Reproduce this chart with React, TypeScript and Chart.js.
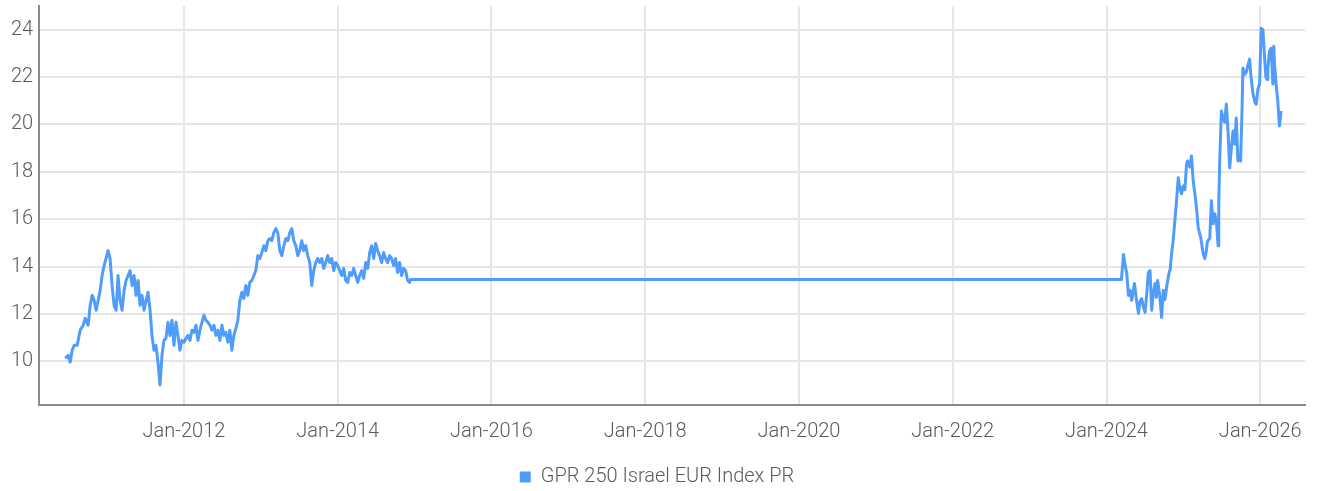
import React, { useEffect, useRef } from "react";
import { Chart, registerables } from "chart.js";

Chart.register(...registerables);

const seriesName = "GPR 250 Israel EUR Index PR";
const xTickYears = [2012, 2014, 2016, 2018, 2020, 2022, 2024, 2026];
const yTickValues = [10, 12, 14, 16, 18, 20, 22, 24];

// dates in decimal years
const dates = [
  2010.455, 2010.494, 2010.52, 2010.546, 2010.572, 2010.611, 2010.65, 2010.689, 2010.715, 2010.754,
  2010.78, 2010.806, 2010.832, 2010.858, 2010.884, 2010.91, 2010.935, 2010.961, 2010.987, 2011.013,
  2011.039, 2011.065, 2011.091, 2011.117, 2011.143, 2011.169, 2011.195, 2011.221, 2011.247, 2011.273,
  2011.299, 2011.325, 2011.351, 2011.377, 2011.403, 2011.429, 2011.455, 2011.481, 2011.507, 2011.533,
  2011.559, 2011.584, 2011.61, 2011.636, 2011.662, 2011.688, 2011.714, 2011.74, 2011.766, 2011.792,
  2011.818, 2011.844, 2011.87, 2011.896, 2011.922, 2011.948, 2011.974, 2012.0, 2012.026, 2012.052,
  2012.078, 2012.104, 2012.13, 2012.156, 2012.182, 2012.208, 2012.234, 2012.26, 2012.286, 2012.312,
  2012.338, 2012.364, 2012.39, 2012.416, 2012.442, 2012.468, 2012.494, 2012.519, 2012.545, 2012.571,
  2012.597, 2012.623, 2012.649, 2012.675, 2012.701, 2012.727, 2012.753, 2012.779, 2012.805, 2012.831,
  2012.857, 2012.883, 2012.909, 2012.935, 2012.961, 2012.987, 2013.013, 2013.039, 2013.065, 2013.091,
  2013.117, 2013.143, 2013.169, 2013.195, 2013.221, 2013.247, 2013.273, 2013.299, 2013.325, 2013.351,
  2013.377, 2013.403, 2013.429, 2013.455, 2013.481, 2013.506, 2013.532, 2013.558, 2013.584, 2013.61,
  2013.636, 2013.662, 2013.688, 2013.714, 2013.74, 2013.766, 2013.792, 2013.818, 2013.844, 2013.87,
  2013.896, 2013.922, 2013.948, 2013.974, 2014.0, 2014.026, 2014.052, 2014.078, 2014.104, 2014.13,
  2014.156, 2014.182, 2014.208, 2014.234, 2014.26, 2014.286, 2014.312, 2014.338, 2014.364, 2014.39,
  2014.416, 2014.442, 2014.468, 2014.494, 2014.519, 2014.545, 2014.571, 2014.597, 2014.623, 2014.649,
  2014.675, 2014.701, 2014.727, 2014.753, 2014.779, 2014.805, 2014.831, 2014.857, 2014.883, 2014.909,
  2014.935, 2014.948,
  2024.194, 2024.22, 2024.239, 2024.263, 2024.285, 2024.304, 2024.328, 2024.363, 2024.389, 2024.415,
  2024.434, 2024.457, 2024.479, 2024.501, 2024.524, 2024.544, 2024.566, 2024.587, 2024.609, 2024.631,
  2024.648, 2024.665, 2024.691, 2024.716, 2024.738, 2024.76, 2024.781, 2024.812, 2024.829, 2024.846,
  2024.864, 2024.881, 2024.911, 2024.933, 2024.955, 2024.975, 2024.997, 2025.019, 2025.04, 2025.053,
  2025.084, 2025.105, 2025.127, 2025.149, 2025.17, 2025.192, 2025.227, 2025.256, 2025.278, 2025.299,
  2025.312, 2025.343, 2025.364, 2025.386, 2025.408, 2025.429, 2025.451, 2025.46, 2025.473, 2025.494,
  2025.515, 2025.537, 2025.558, 2025.58, 2025.602, 2025.623, 2025.645, 2025.667, 2025.687, 2025.709,
  2025.726, 2025.744, 2025.762, 2025.774, 2025.793, 2025.817, 2025.839, 2025.861, 2025.874, 2025.904,
  2025.934, 2025.947, 2025.969, 2025.991, 2026.012, 2026.034, 2026.056, 2026.073, 2026.09, 2026.098,
  2026.12, 2026.141, 2026.163, 2026.176, 2026.185, 2026.205, 2026.227, 2026.249, 2026.27,
];

const values = [
  10.13, 10.25, 9.96, 10.46, 10.67, 10.67, 11.31, 11.52, 11.81, 11.52,
  12.36, 12.78, 12.57, 12.15, 12.57, 12.99, 13.62, 14.04, 14.34, 14.67,
  14.34, 13.2, 12.36, 12.15, 13.62, 12.57, 12.15, 12.99, 13.41, 13.62,
  13.83, 13.2, 13.62, 12.78, 13.41, 12.36, 12.78, 12.15, 12.57, 12.91,
  12.15, 11.09, 10.46, 10.67, 9.96, 8.99, 10.25, 10.88, 10.97, 11.64,
  11.09, 11.73, 10.67, 11.64, 11.09, 10.46, 10.88, 10.8, 10.97, 11.09,
  10.88, 11.31, 11.22, 11.52, 10.88, 11.31, 11.64, 11.94, 11.73, 11.64,
  11.52, 11.31, 11.52, 11.09, 11.31, 10.88, 11.52, 11.09, 11.22, 10.8,
  11.31, 10.46, 11.09, 11.39, 11.73, 12.57, 12.91, 12.65, 13.2, 12.78,
  13.33, 13.41, 13.62, 13.83, 14.46, 14.34, 14.59, 14.88, 14.67, 15.09,
  15.18, 15.09, 15.43, 15.6, 15.43, 14.67, 14.46, 14.88, 15.18, 15.09,
  15.43, 15.6, 15.09, 14.88, 14.46, 14.67, 15.09, 14.67, 14.88, 14.46,
  14.17, 13.2, 13.83, 14.17, 14.34, 14.17, 14.34, 13.92, 14.17, 14.46,
  14.17, 14.34, 13.83, 14.17, 14.04, 13.83, 13.62, 13.92, 13.41, 13.33,
  13.75, 13.62, 13.92, 13.62, 13.33, 13.62, 13.83, 13.5, 14.17, 13.92,
  14.59, 14.88, 14.34, 14.97, 14.67, 14.46, 14.17, 14.59, 14.34, 14.17,
  14.46, 14.34, 14.04, 14.34, 13.75, 14.17, 13.62, 13.92, 13.83, 13.41,
  13.33, 13.45,
  13.45, 14.51, 14.1, 13.71, 12.78, 13.0, 12.57, 13.28, 12.6, 12.02,
  12.5, 12.65, 12.3, 12.06, 12.9, 13.75, 13.83, 12.15, 12.9, 13.28,
  12.7, 13.41, 12.8, 11.85, 12.99, 12.6, 13.12, 13.71, 13.9, 14.55,
  15.0, 15.64, 16.78, 17.75, 17.3, 17.07, 17.4, 17.25, 18.3, 18.46,
  18.2, 18.67, 17.62, 17.07, 16.5, 15.64, 15.2, 14.55, 14.34, 14.67,
  15.05, 15.2, 16.78, 15.81, 16.23, 15.9, 14.88, 16.78, 18.55, 20.57,
  20.27, 20.1, 20.86, 19.72, 18.17, 19.0, 19.72, 19.17, 20.27, 18.46,
  18.7, 18.46, 20.57, 22.38, 22.1, 22.2, 22.5, 22.76, 22.2, 21.3,
  20.9, 20.86, 21.5, 21.71, 24.06, 24.0, 22.8, 22.0, 21.9, 22.38,
  23.1, 23.22, 21.71, 23.3, 22.55, 21.71, 21.0, 19.94, 20.57,
];

const LINE_COLOR = "#4f9cfb";
const TEXT_COLOR = "#5a5a5a";
const GRID_COLOR = "#e6e6e6";
const AXIS_COLOR = "#8a8a8a";
const FONT_FAMILY = "Roboto, 'Noto Sans', sans-serif";
const FONT = { family: FONT_FAMILY, size: 20, weight: 300 as any, lineHeight: 1.2 };
const Y_FONT = { family: FONT_FAMILY, size: 20, weight: 300 as any, lineHeight: 0.01 };

const legendShift = {
  id: "legendShift",
  afterLayout(chart: any) {
    const l = chart.legend;
    if (l) {
      l.top += 6;
      l.bottom += 6;
    }
  },
};

export default function App() {
  const canvasRef = useRef<HTMLCanvasElement | null>(null);

  useEffect(() => {
    if (!canvasRef.current) return;
    const chart = new Chart(canvasRef.current, {
      type: "line",
      data: {
        datasets: [
          {
            label: seriesName,
            data: dates.map((d, i) => ({ x: d, y: values[i] })),
            borderColor: LINE_COLOR,
            backgroundColor: LINE_COLOR,
            borderWidth: 3,
            pointRadius: 0,
            tension: 0,
            borderJoinStyle: "round",
          },
        ],
      },
      plugins: [legendShift],
      options: {
        responsive: false,
        animation: false,
        layout: { padding: { left: 5, right: 8, top: 0, bottom: 0 } },
        plugins: {
          tooltip: { enabled: false },
          legend: {
            position: "bottom",
            labels: {
              color: TEXT_COLOR,
              font: FONT,
              boxWidth: 11,
              boxHeight: 11,
              padding: 2,
              generateLabels: (c: any) =>
                Chart.defaults.plugins.legend.labels
                  .generateLabels(c)
                  .map((l: any) => ({ ...l, lineWidth: 0, fillStyle: LINE_COLOR })),
            },
          },
        },
        scales: {
          x: {
            type: "linear",
            min: 2010.117,
            max: 2026.584,
            afterBuildTicks: (axis: any) => {
              axis.ticks = xTickYears.map((v) => ({ value: v }));
            },
            ticks: {
              color: TEXT_COLOR,
              font: FONT,
              padding: 15,
              maxRotation: 0,
              autoSkip: false,
              callback: (v: any) => `Jan-${v}`,
            },
            grid: { color: GRID_COLOR, lineWidth: 2, drawTicks: false },
            border: { display: true, color: AXIS_COLOR, width: 2 },
          },
          y: {
            type: "linear",
            min: 8.15,
            max: 25,
            afterBuildTicks: (axis: any) => {
              axis.ticks = yTickValues.map((v) => ({ value: v }));
            },
            ticks: {
              color: TEXT_COLOR,
              font: Y_FONT,
              padding: 6,
              autoSkip: false,
            },
            grid: { color: GRID_COLOR, lineWidth: 2, drawTicks: false },
            border: { display: true, color: AXIS_COLOR, width: 2 },
          },
        },
      },
    });
    return () => chart.destroy();
  }, []);

  return (
    <div style={{ position: "fixed", left: 0, top: 0, width: 1317, height: 491, background: "#fff" }}>
      <canvas ref={canvasRef} width={1317} height={491} />
    </div>
  );
}
